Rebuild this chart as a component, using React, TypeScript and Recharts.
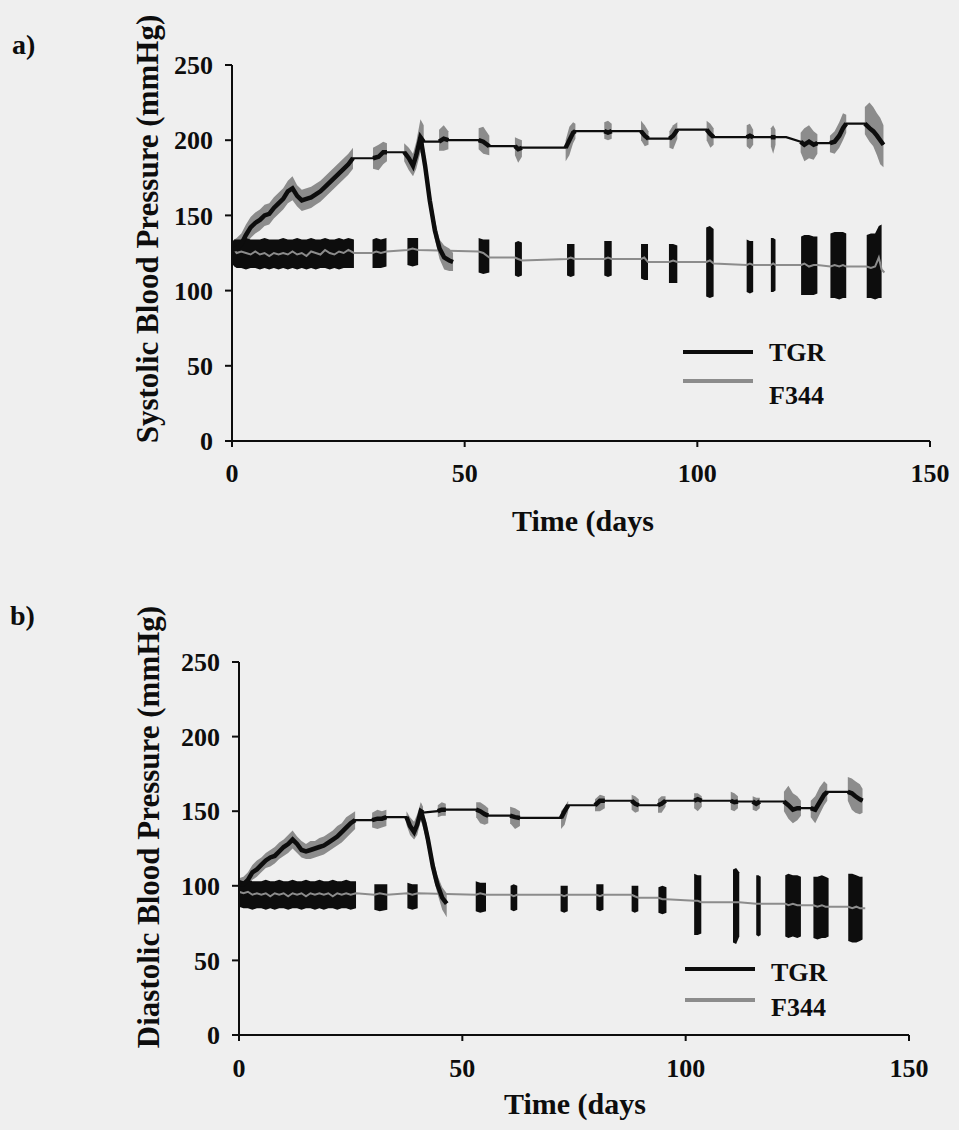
import { ComposedChart, Area, Line, XAxis, YAxis } from "recharts";

// [day, mean, low, high]; low/high left out where only the mean line runs
type Pt = [number, number, number?, number?];

const DAY_TICKS = [0, 50, 100, 150];
const MMHG_TICKS = [0, 50, 100, 150, 200, 250];

const TGR_SYS: Pt[][] = [
  [[0, 127, 121, 133], [1, 128, 121, 135], [2, 131, 124, 138], [3, 137, 130, 144], [4, 142, 135, 149], [5, 145, 138, 152], [6, 147, 140, 154], [7, 150, 143, 157], [8, 151, 144, 158], [9, 155, 148, 162], [10, 158, 151, 165], [11, 161, 154, 168], [12, 166, 158, 173], [13, 168, 160, 176], [14, 163, 156, 170], [15, 160, 153, 167], [16, 161, 154, 168], [17, 162, 155, 169], [18, 164, 157, 171], [19, 166, 159, 173], [20, 169, 162, 176], [21, 172, 165, 179], [22, 175, 168, 182], [23, 178, 171, 185], [24, 181, 174, 188], [25, 184, 177, 191], [26, 188, 181, 195]],
  [[30.3, 188, 181, 195], [31.5, 189, 180, 197], [32.5, 192, 184, 199], [33.3, 192, 186, 198]],
  [[37, 192, 186, 198], [38, 188, 180, 195], [38.9, 183, 176, 191], [39.6, 190, 181, 199], [40.5, 202, 192, 214], [41.2, 199, 190, 210]],
  [[44.5, 199, 193, 207], [45.5, 201, 193, 210], [46.5, 200, 194, 206]],
  [[53, 200, 194, 208], [54, 199, 191, 209], [55.3, 196, 190, 203]],
  [[60.8, 196, 190, 202], [61.5, 194, 185, 201], [62.3, 195, 189, 200]],
  [[71.7, 195, 186, 200], [72.5, 200, 190, 209], [73.3, 205, 198, 212], [73.8, 206, 201, 211]],
  [[80, 206, 201, 212], [80.8, 205, 200, 213], [81.6, 206, 201, 211]],
  [[87.9, 206, 200, 213], [88.7, 203, 196, 210], [89.5, 201, 197, 206]],
  [[94, 201, 195, 206], [94.8, 203, 194, 210], [95.7, 207, 201, 212]],
  [[102, 207, 200, 213], [102.8, 204, 195, 211], [103.5, 202, 197, 208]],
  [[110.6, 202, 196, 210], [111.3, 203, 194, 211], [112, 202, 197, 207]],
  [[115.8, 202, 196, 208], [116.3, 202, 191, 210], [116.8, 202, 197, 207]],
  [[119.1, 202]],
  [[122.2, 199, 192, 205], [123, 197, 186, 208], [124, 199, 188, 210], [125, 197, 187, 206], [125.8, 198, 191, 204]],
  [[128.5, 198, 192, 203], [129.5, 199, 191, 206], [130.5, 203, 195, 212], [131.3, 208, 200, 218], [132, 211, 205, 217]],
  [[136, 211, 204, 222], [137, 208, 199, 225], [137.8, 206, 196, 222], [138.6, 203, 190, 218], [139.3, 200, 184, 215], [140, 197, 182, 210]],
];

// the short TGR trace falling back to baseline around day 41-47
const TGR_SYS_FALL: Pt[][] = [
  [[40.5, 202, 195, 210], [41.5, 183, 177, 190], [42.5, 160, 154, 167], [43.6, 140, 134, 147], [44.6, 128, 121, 134], [45.6, 122, 114, 130], [46.7, 120, 113, 128], [47.5, 119, 113, 125]],
];

const F344_SYS: Pt[][] = [
  [[0, 126, 118, 132], [0.5, 127, 116, 134], [1, 125, 115, 134], [2, 126, 115, 134], [3, 125, 114, 135], [4, 124, 115, 134], [5, 126, 115, 134], [6, 124, 114, 134], [7, 125, 115, 135], [8, 123, 114, 134], [9, 125, 115, 134], [10, 124, 114, 134], [11, 125, 115, 135], [12, 124, 114, 134], [13, 126, 115, 134], [14, 124, 114, 135], [15, 125, 115, 134], [16, 123, 114, 134], [17, 126, 115, 135], [18, 125, 114, 134], [19, 124, 115, 134], [20, 127, 115, 135], [21, 125, 114, 134], [22, 124, 115, 134], [23, 126, 114, 135], [24, 125, 115, 134], [25, 127, 115, 135], [26.2, 125, 115, 134]],
  [[30.2, 125, 115, 134], [31, 126, 115, 135], [32, 125, 115, 134], [33.2, 126, 116, 135]],
  [[37.7, 127, 117, 135], [38.8, 128, 116, 135], [40, 127, 117, 135]],
  [[53, 126, 112, 135], [54, 125, 111, 134], [55.3, 122, 112, 134]],
  [[60.8, 122, 110, 132], [61.5, 121, 109, 133], [62.3, 120, 110, 132]],
  [[72, 121, 110, 131], [72.8, 122, 109, 131], [73.6, 121, 110, 131]],
  [[80, 121, 110, 133], [80.8, 122, 109, 133], [81.6, 121, 110, 133]],
  [[87.9, 121, 108, 131], [88.6, 122, 107, 131], [89.4, 119, 107, 131]],
  [[93.9, 119, 105, 131], [94.8, 120, 105, 131], [95.7, 119, 105, 130]],
  [[101.9, 119, 96, 142], [102.7, 120, 95, 143], [103.5, 118, 96, 141]],
  [[110.6, 117, 99, 134], [111.3, 118, 98, 133], [112, 117, 99, 133]],
  [[115.8, 117, 99, 135], [116.3, 118, 99, 135], [116.8, 117, 100, 134]],
  [[122.3, 117, 97, 136], [123, 118, 97, 137], [124, 116, 97, 137], [125, 117, 97, 136], [125.8, 117, 98, 136]],
  [[128.6, 116, 95, 138], [129.5, 117, 95, 139], [130.5, 116, 94, 139], [131.3, 117, 95, 139], [132, 116, 95, 138]],
  [[136.4, 116, 95, 137], [137.3, 115, 95, 138], [138.2, 116, 94, 138], [139, 122, 95, 143], [139.6, 114, 95, 144]],
  [[140.2, 112]],
];

const TGR_DIA: Pt[][] = [
  [[0, 101, 97, 105], [1, 101, 96, 106], [2, 104, 99, 109], [3, 109, 104, 114], [4, 111, 106, 117], [5, 114, 109, 119], [6, 117, 112, 122], [7, 119, 113, 124], [8, 120, 115, 126], [9, 123, 118, 129], [10, 126, 120, 131], [11, 128, 122, 134], [12, 131, 125, 137], [13, 128, 122, 133], [14, 124, 119, 130], [15, 123, 118, 128], [16, 124, 118, 130], [17, 125, 119, 130], [18, 126, 120, 132], [19, 127, 121, 133], [20, 129, 123, 135], [21, 131, 125, 137], [22, 133, 127, 140], [23, 136, 129, 142], [24, 139, 132, 146], [25, 142, 135, 148], [26, 144, 138, 150]],
  [[29.8, 144, 139, 149], [31, 145, 138, 151], [32, 145, 139, 150], [33, 146, 140, 151]],
  [[37.5, 146, 141, 150], [38.3, 140, 134, 146], [39.2, 136, 131, 143], [39.9, 141, 134, 148], [40.7, 150, 144, 156], [41.2, 149, 145, 153]],
  [[44.5, 150, 146, 154], [45.4, 151, 147, 156], [46.3, 151, 147, 155]],
  [[53.1, 151, 146, 156], [54, 150, 142, 156], [55, 148, 141, 154], [55.8, 147, 142, 152]],
  [[60.7, 147, 142, 153], [61.8, 146, 138, 152], [62.9, 145.5, 140, 150]],
  [[72.1, 145.5, 138, 150], [72.9, 150, 141, 153], [73.7, 154, 150, 157]],
  [[79.7, 154, 150, 158], [80.8, 157, 150, 161], [81.9, 157, 152, 160]],
  [[87.9, 157, 151, 161], [88.7, 155, 149, 160], [89.5, 154, 150, 158]],
  [[93.8, 154, 149, 158], [94.6, 155, 149, 160], [95.5, 157, 153, 160]],
  [[101.9, 157, 152, 162], [102.7, 158, 150, 162], [103.6, 157, 153, 160]],
  [[110.1, 157, 151, 163], [110.9, 156, 150, 162], [111.7, 156.5, 152, 160]],
  [[115, 156.5, 151, 160], [115.8, 155, 150, 159], [116.6, 156.5, 152, 159]],
  [[122, 156.5, 150, 163], [123, 154, 145, 167], [124, 151, 142, 162], [125, 152, 144, 160], [125.8, 152, 147, 157]],
  [[128, 152, 146, 157], [129, 151, 142, 160], [130, 156, 148, 166], [131, 161, 154, 170], [131.7, 163, 157, 168]],
  [[136.3, 163, 157, 173], [137.2, 162, 151, 172], [138, 160, 149, 170], [139, 158, 148, 168], [139.6, 157, 149, 165]],
];

const TGR_DIA_FALL: Pt[][] = [
  [[40.7, 150, 144, 156], [41.5, 142, 136, 148], [42.3, 131, 125, 137], [43.4, 113, 107, 119], [44.4, 101, 95, 107], [45.5, 92, 84, 99], [46.5, 88, 79, 95]],
];

const F344_DIA: Pt[][] = [
  [[0, 96, 86, 104], [1, 95, 85, 103], [2, 96, 85, 104], [3, 94, 84, 103], [4, 95, 85, 103], [5, 94, 85, 103], [6, 95, 84, 104], [7, 93, 85, 103], [8, 95, 84, 103], [9, 94, 85, 104], [10, 95, 85, 103], [11, 93, 84, 103], [12, 95, 85, 104], [13, 94, 85, 103], [14, 95, 84, 103], [15, 93, 85, 104], [16, 95, 85, 103], [17, 94, 84, 103], [18, 95, 85, 104], [19, 94, 84, 103], [20, 95, 85, 103], [21, 93, 85, 104], [22, 95, 84, 103], [23, 94, 85, 103], [24, 95, 85, 104], [25, 94, 84, 103], [26.2, 95, 85, 103]],
  [[30.3, 94, 84, 101], [31.5, 95, 83, 101], [33.2, 94, 84, 101]],
  [[37.7, 95, 85, 102], [38.8, 94, 84, 101], [40, 95, 85, 101]],
  [[53, 94, 83, 103], [54, 95, 82, 102], [55.3, 94, 83, 102]],
  [[60.8, 94, 84, 100], [61.5, 93, 83, 101], [62.3, 94, 84, 100]],
  [[72, 94, 83, 100], [72.8, 93, 82, 100], [73.6, 94, 83, 100]],
  [[80, 94, 84, 101], [80.8, 93, 83, 101], [81.6, 94, 84, 101]],
  [[87.9, 94, 83, 100], [88.6, 93, 82, 100], [89.4, 92, 83, 100]],
  [[93.9, 92, 82, 99], [94.8, 91, 81, 100], [95.7, 91, 82, 99]],
  [[101.9, 90, 67, 108], [102.7, 90, 67, 107], [103.5, 89, 68, 107]],
  [[110.6, 89, 62, 111], [111.3, 89, 61, 112], [112, 89, 66, 109]],
  [[115.8, 88, 67, 107], [116.3, 88, 66, 107], [116.8, 88, 67, 106]],
  [[122.3, 88, 66, 107], [123, 87, 65, 108], [124, 88, 66, 107], [125, 87, 65, 107], [125.8, 87, 66, 106]],
  [[128.6, 87, 65, 106], [129.5, 86, 64, 106], [130.5, 87, 65, 107], [131.3, 86, 65, 106], [132, 86, 66, 105]],
  [[136.4, 86, 63, 108], [137.3, 85, 62, 108], [138.2, 86, 62, 107], [139, 85, 63, 106], [139.6, 85, 64, 106]],
  [[140.2, 85]],
];

const BLACK = "#0d0d0d";
const GREY = "#8c8c8c";
const PAPER = "#efefef";
const SERIF = "'Liberation Serif', 'Times New Roman', serif";

type Row = { day: number; mean: number; band: [number, number] | null };

const rowsOf = (bursts: Pt[][]): Row[][] =>
  bursts.map((b) =>
    b.map(([day, mean, lo, hi]) => ({
      day,
      mean,
      band: lo === undefined || hi === undefined ? null : [lo, hi],
    }))
  );

type Layout = {
  top: number;
  height: number;
  plotLeft: number;
  plotRight: number;
  plotTop: number;
  plotBottom: number;
  xTickMargin: number;
};

const Y_AXIS_W = 80;
const X_AXIS_H = 60;

const tickStyle = { fill: BLACK, fontSize: 26, fontWeight: 700, fontFamily: SERIF };
const axisStroke = { stroke: BLACK, strokeWidth: 2 };

function BpChart({
  layout,
  tgr,
  fall,
  f344,
}: {
  layout: Layout;
  tgr: Pt[][];
  fall: Pt[][];
  f344: Pt[][];
}) {
  const tgrRows = rowsOf(tgr);
  const fallRows = rowsOf(fall);
  const f344Rows = rowsOf(f344);
  // bursts with a single reading only carry the mean line
  const tgrBursts = [...tgrRows, ...fallRows].filter((r) => r.length > 1);
  const margin = {
    top: layout.plotTop - layout.top,
    left: layout.plotLeft - Y_AXIS_W,
    right: 959 - layout.plotRight,
    bottom: layout.top + layout.height - layout.plotBottom - X_AXIS_H,
  };
  return (
    <div style={{ position: "absolute", left: 0, top: layout.top }}>
      <ComposedChart width={959} height={layout.height} margin={margin}>
        <XAxis
          type="number"
          dataKey="day"
          domain={[0, 150]}
          ticks={DAY_TICKS}
          height={X_AXIS_H}
          tickSize={6}
          tickMargin={layout.xTickMargin}
          tick={tickStyle}
          axisLine={axisStroke}
          tickLine={axisStroke}
        />
        <YAxis
          type="number"
          domain={[0, 250]}
          ticks={MMHG_TICKS}
          width={Y_AXIS_W}
          tickSize={7}
          tickMargin={12}
          tick={tickStyle}
          axisLine={axisStroke}
          tickLine={axisStroke}
        />
        {/* grey spread around the TGR trace */}
        {tgrBursts.map((r, i) => (
          <Area
            key={`tb${i}`}
            data={r}
            dataKey="band"
            type="linear"
            stroke="none"
            fill={GREY}
            fillOpacity={1}
            dot={false}
            activeDot={false}
            isAnimationActive={false}
          />
        ))}
        {/* black spread around the F344 trace */}
        {f344Rows
          .filter((r) => r.length > 1)
          .map((r, i) => (
            <Area
              key={`fb${i}`}
              data={r}
              dataKey="band"
              type="linear"
              stroke="none"
              fill={BLACK}
              fillOpacity={1}
              dot={false}
              activeDot={false}
              isAnimationActive={false}
            />
          ))}
        <Line
          data={f344Rows.flat()}
          dataKey="mean"
          type="linear"
          stroke={GREY}
          strokeWidth={2}
          dot={false}
          activeDot={false}
          isAnimationActive={false}
        />
        <Line
          data={tgrRows.flat()}
          dataKey="mean"
          type="linear"
          stroke={BLACK}
          strokeWidth={2.2}
          dot={false}
          activeDot={false}
          isAnimationActive={false}
        />
        {/* recording bursts look heavier: dense readings jitter around the mean */}
        {tgrBursts.map((r, i) => (
          <Line
            key={`tl${i}`}
            data={r}
            dataKey="mean"
            type="linear"
            stroke={BLACK}
            strokeWidth={4.5}
            dot={false}
            activeDot={false}
            isAnimationActive={false}
          />
        ))}
      </ComposedChart>
    </div>
  );
}

// places text so that its baseline lands on `baseline`
function Txt({
  x,
  baseline,
  size,
  children,
  center = false,
}: {
  x: number;
  baseline: number;
  size: number;
  children: string;
  center?: boolean;
}) {
  return (
    <div
      style={{
        position: "absolute",
        left: x,
        top: baseline - 0.8375 * size,
        fontSize: size,
        lineHeight: `${size}px`,
        fontFamily: SERIF,
        fontWeight: 700,
        color: BLACK,
        whiteSpace: "nowrap",
        transform: center ? "translateX(-50%)" : undefined,
      }}
    >
      {children}
    </div>
  );
}

function VTxt({ cx, cy, size, children }: { cx: number; cy: number; size: number; children: string }) {
  return (
    <div
      style={{
        position: "absolute",
        left: cx,
        top: cy,
        fontSize: size,
        lineHeight: `${size}px`,
        fontFamily: SERIF,
        fontWeight: 700,
        color: BLACK,
        whiteSpace: "nowrap",
        transform: "translate(-50%, -50%) rotate(-90deg)",
      }}
    >
      {children}
    </div>
  );
}

function Key({ x, tgrY, f344Y, tgrBase, f344Base }: { x: number; tgrY: number; f344Y: number; tgrBase: number; f344Base: number }) {
  const sw = { position: "absolute" as const, left: x, width: 70, height: 4 };
  return (
    <>
      <div style={{ ...sw, top: tgrY - 2, background: BLACK }} />
      <div style={{ ...sw, top: f344Y - 2, background: GREY }} />
      <Txt x={x + 86} baseline={tgrBase} size={26}>TGR</Txt>
      <Txt x={x + 86} baseline={f344Base} size={26}>F344</Txt>
    </>
  );
}

const LAYOUT_A: Layout = { top: 0, height: 560, plotLeft: 232, plotRight: 930, plotTop: 65, plotBottom: 441, xTickMargin: 17 };
const LAYOUT_B: Layout = { top: 600, height: 530, plotLeft: 239, plotRight: 909, plotTop: 662, plotBottom: 1035, xTickMargin: 18 };

export default function App() {
  return (
    <div style={{ position: "absolute", left: 0, top: 0, width: 959, height: 1130, background: PAPER, overflow: "hidden" }}>
      <BpChart layout={LAYOUT_A} tgr={TGR_SYS} fall={TGR_SYS_FALL} f344={F344_SYS} />
      <BpChart layout={LAYOUT_B} tgr={TGR_DIA} fall={TGR_DIA_FALL} f344={F344_DIA} />

      <Txt x={12} baseline={54} size={28}>a)</Txt>
      <VTxt cx={147} cy={229} size={31}>Systolic Blood Pressure (mmHg)</VTxt>
      <Txt x={583} baseline={531} size={30} center>Time (days</Txt>
      <Key x={683} tgrY={352} f344Y={381} tgrBase={362} f344Base={405} />

      <Txt x={10} baseline={625} size={28}>b)</Txt>
      <VTxt cx={148} cy={827} size={31}>Diastolic Blood Pressure (mmHg)</VTxt>
      <Txt x={575} baseline={1114} size={30} center>Time (days</Txt>
      <Key x={685} tgrY={969} f344Y={1000} tgrBase={982} f344Base={1017} />
    </div>
  );
}
